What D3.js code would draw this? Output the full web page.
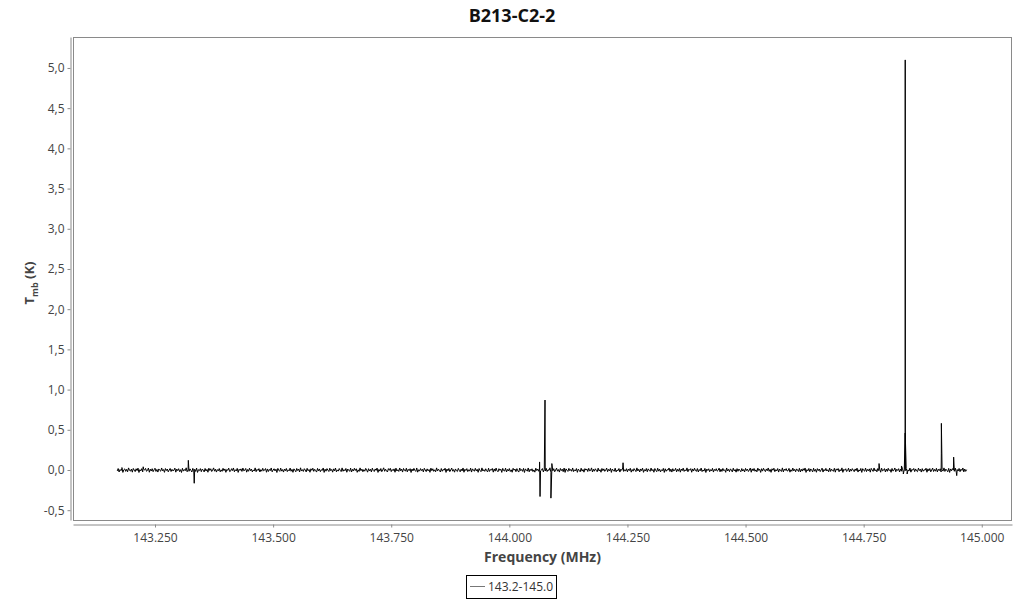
<!DOCTYPE html>
<html>
<head>
<meta charset="utf-8">
<script src="https://cdn.jsdelivr.net/npm/d3@7"></script>
<style>
  html, body { margin: 0; padding: 0; background: #fff; }
  svg { display: block; font-family: "Open Sans", "Noto Sans", sans-serif; }
</style>
</head>
<body>
<svg id="chart" width="1024" height="600"></svg>
<script>
// ---------------- data ----------------
const title = "B213-C2-2";
const seriesName = "143.2-145.0";
const xTicks = [143.25, 143.5, 143.75, 144.0, 144.25, 144.5, 144.75, 145.0];
const yTicks = [-0.5, 0.0, 0.5, 1.0, 1.5, 2.0, 2.5, 3.0, 3.5, 4.0, 4.5, 5.0];

// baseline channels (MHz): first channel and channel spacing
const chanStart = 143.170;
const chanStep = 0.002;
// baseline noise, mK, one per channel
const noiseMilliK = [
  -12,18,-25,6,-9,21,-30,3,14,-17,8,-22,26,-5,-14,11,-27,19,-2,-20,15,-8,23,-31,4,-11,17,-24,9,-1,
  20,-16,-6,24,-28,10,-13,16,-21,2,22,-18,7,-26,13,-4,-15,25,-10,5,-29,18,-7,12,-23,0,19,-19,8,-12,
  -3,23,-27,11,-8,16,-20,4,-31,21,-14,6,-9,27,-22,1,-16,14,-5,-25,20,-11,9,-18,24,-30,3,-7,17,-21,
  12,-2,-24,19,-13,8,-28,22,-6,15,-19,-1,26,-15,10,-26,5,-10,18,-23,2,-17,21,-8,13,-29,7,-4,23,-20,
  -14,16,-7,25,-22,3,-12,20,-30,9,-5,14,-18,24,-11,-3,19,-27,6,-16,22,-9,11,-24,1,-13,26,-21,8,-6,
  17,-25,4,-15,21,-10,-2,18,-28,13,-19,7,-8,25,-23,0,15,-12,10,-31,20,-4,-17,23,-14,5,-26,12,-9,19,
  -20,2,-11,24,-16,8,-29,14,-3,-22,19,-7,11,-25,27,-13,4,-18,16,-1,-24,21,-10,6,-28,15,-5,22,-17,9,
  -8,-26,20,-12,13,-21,3,-6,25,-30,10,-15,17,-2,-19,22,-9,7,-27,14,-11,24,-23,1,-14,18,-4,-20,26,-16,
  5,-10,19,-28,12,-3,-17,23,-25,8,-13,21,-6,15,-29,2,-18,26,-9,11,-22,4,-15,20,-1,-27,16,-12,9,-24,
  22,-7,-19,13,-5,24,-30,7,-14,18,-21,1,27,-16,10,-11,-25,17,-4,21,-20,6,-9,14,-28,23,-13,3,-18,25,
  -10,11,-26,19,-2,-15,22,-23,8,-8,16,-31,12,-12,20,-5,-18,25,-27,3,-14,17,-7,9,-24,21,-1,-20,14,-11,
  6,-29,23,-9,15,-17,2,-22,26,-13,10,-6,-25,18,-16,7,-3,22,-30,12,-10,19,-21,0,24,-15,5,-27,13,-8,
  -19,20,-4,-23,11,-12,25,-28,9,-7,17,-20,3,-14,23,-26,14,-2,-16,21,-11,8,-29,18,-6,-21,26,-13,4,-17,
  15,-9,-24,22,-18,5,-1,19,-27,13,-15,24,-10,-22,16,-5,10,-30,20,-8,-13,23,-25,7,-12,18,-19,2,-28,21,
  -3,12,-21,17,-11,-26,24,-8,6,-17,20,-31,14,-4,-14,25,-23,9,-9,15,-20,1,-27,22,-7,11,-16,26,-12,-2,
  18,-24,8,-13,21,-19,4,-6,27,-28,12,-10,16,-22,-1,23,-15,5,-26,19,-8,10,-21,24,-30,14,-3,-18,20,-9,
  7,-16,25,-20,2,-12,18,-29,11,-5,-23,22,-14,6,-27,17,-2,13,-19,21,-11,-7,26,-25,9,-15,15,-4,-22,23,
  -13,4,-28,19,-9,14,-17,-3,24,-21,8,-11,20,-30,12,-6,-16,22,-24,1,-10,18,-26,10,-5,25,-18,3,-14,16,
  -23,11,-7,21,-27,6,-15,17,-1,-20,26,-12,9,-25,13,-8,23,-29,4,-13,19,-22,14,-4,-17,24,-10,7,-28,18,
  -6,-21,22,-14,10,-24,3,-9,20,-30,15,-16,5,-2,25,-19,11,-26,16,-12,-5,21,-23,8,-15,19,-27,12,-8,23,
  -18,2,-11,26,-22,9,-3,17,-28,13,-13,22,-7,-17,18,-25,6,-10,24,-20,1,-14,20,-31,11,-6,15,-21,4,-12,
  21,-26,7,-8,16,-15,-4,23,-23,10,-18,19,-9,3,-29,25,-12,8,-20,14,-2,-24,22,-11,5,-27,17,-16,12,-5,
  -22,18,-13,6,-25,20,-7,11,-19,-1,24,-28,14,-10,19,-16,2,-23,23,-6,9,-30,16,-14,21,-3,-20,13,-9,25,
  -17,7,-29,15,-4,22,-21,4,-12,18,-26,12,-8,-18,26,-24,10,-5,17,-13,-9,20,-27,3,-16,24,-11,8,-22,14,
  -1,-19,21,-25,9,-14,16,-6,25,-30,5,-11,19,-21,13,-3,-24,22,-15,7,-28,17,-8,12,-20,1,23,-26,6,-10,
  20,-13,3,-23,24,-18,10,-7,-16,21,-27,14,-2,18,-22,5,-12,26,-29,8,-4,15,-19,-6,22,-25,11,-14,17,-3,
  -21,13,-9,23,-26,2,-13,19,-30,16,-5,-15,24,-20,7,-10,14,-27,20,-1,-18,25,-12,4,-23,18,-8,10,-28,22,
  -11,-4,17,-24,12,-17,21,-8,5,-29,19,-14,-3,25,-22,9,-6,16,-25,11,-15,22,-31,6,-9,20,-18,2,-13,24,
  -27,8,-2,19,-20,13,-12,-21,23,-7,10,-26,17,-16,4,-4,22,-28,14,-11,18,-23,-1,24,-19,7,-15,21,-24,9,
  -8,15,-25,3,-14,26,-18,11,-5,-22,20,-30,13,-10,17,-2,-16,23,-27,6,-13,19,-21,10,-6,25,-24,12,-17,4
];
// line features (MHz, K)
const lineFreq = [143.1800, 143.2250, 143.3205, 143.3330, 144.0640, 144.0650, 144.0755, 144.0880, 144.0900,
                  144.2407, 144.7826, 144.8300, 144.8340, 144.8379, 144.8380, 144.8381, 144.8420,
                  144.9144, 144.9145, 144.9405, 144.9470];
const lineVal  = [0.03, 0.04, 0.12, -0.165, 0.10, -0.33, 0.87, -0.35, 0.08,
                  0.09, 0.08, 0.05, -0.05, 0.46, 5.10, 0.44, -0.05,
                  0.20, 0.58, 0.16, -0.07];

// ---------------- build series ----------------
const pts = noiseMilliK.map((v, i) => ({ f: chanStart + i * chanStep, t: v / 1000 }));
lineFreq.forEach((f, i) => pts.push({ f: f, t: lineVal[i] }));
pts.sort((a, b) => a.f - b.f);

// ---------------- layout ----------------
const plot = { left: 73, right: 1012, top: 37, bottom: 520 };
const svg = d3.select("#chart");

const x = d3.scaleLinear().domain([143.0764, 145.064]).range([plot.left, plot.right]);
const y = d3.scaleLinear().domain([-0.622, 5.385]).range([plot.bottom, plot.top]);

// title
svg.append("text")
  .attr("x", 512).attr("y", 22)
  .attr("text-anchor", "middle")
  .attr("font-size", 18).attr("font-weight", "bold").attr("fill", "#111")
  .text(title);

// frame
svg.append("rect")
  .attr("x", plot.left + 0.5).attr("y", plot.top + 0.5)
  .attr("width", plot.right - plot.left - 1).attr("height", plot.bottom - plot.top)
  .attr("fill", "none").attr("stroke", "#8a8a8a");

// clip
svg.append("clipPath").attr("id", "clip")
  .append("rect").attr("x", plot.left + 1).attr("y", plot.top + 1)
  .attr("width", plot.right - plot.left - 2).attr("height", plot.bottom - plot.top - 1);

// spectrum
const line = d3.line().x(d => x(d.f)).y(d => y(d.t));
svg.append("path")
  .datum(pts)
  .attr("clip-path", "url(#clip)")
  .attr("fill", "none").attr("stroke", "#000").attr("stroke-width", 1)
  .attr("d", line);

// y axis
const yAxis = d3.axisLeft(y).tickValues(yTicks).tickSize(3).tickSizeOuter(0).tickPadding(3)
  .tickFormat(d => d3.format(".1f")(d).replace(".", ",").replace("−", "-"));
const gy = svg.append("g").attr("transform", "translate(70.5,0)").call(yAxis);
gy.select(".domain").attr("stroke", "#8a8a8a");
gy.selectAll(".tick line").attr("stroke", "#8a8a8a");
gy.selectAll(".tick text").attr("font-size", 12).attr("fill", "#444")
  .attr("font-family", "'Open Sans', sans-serif");

// x axis
const xAxis = d3.axisBottom(x).tickValues(xTicks).tickSize(3).tickSizeOuter(0).tickPadding(6)
  .tickFormat(d3.format(".3f"));
const gx = svg.append("g").attr("transform", "translate(0,524.5)").call(xAxis);
gx.select(".domain").attr("stroke", "#8a8a8a");
gx.selectAll(".tick line").attr("stroke", "#8a8a8a");
gx.selectAll(".tick text").attr("font-size", 12).attr("fill", "#444")
  .attr("font-family", "'Open Sans', sans-serif");

// x title
svg.append("text")
  .attr("x", (plot.left + plot.right) / 2).attr("y", 562)
  .attr("text-anchor", "middle")
  .attr("font-size", 14).attr("font-weight", "bold").attr("fill", "#444")
  .text("Frequency (MHz)");

// y title
const yt = svg.append("text")
  .attr("transform", "translate(34,283) rotate(-90)")
  .attr("text-anchor", "middle")
  .attr("font-size", 13).attr("font-weight", "bold").attr("fill", "#444");
yt.append("tspan").text("T");
yt.append("tspan").attr("font-size", 9).attr("dy", 4).text("mb");
yt.append("tspan").attr("dy", -4).text(" (K)");

// legend
const lg = svg.append("g");
lg.append("rect").attr("x", 466.5).attr("y", 575.5).attr("width", 90).attr("height", 23)
  .attr("fill", "#fff").attr("stroke", "#000");
lg.append("line").attr("x1", 470).attr("x2", 485).attr("y1", 586.5).attr("y2", 586.5)
  .attr("stroke", "#777").attr("stroke-width", 1);
lg.append("text").attr("x", 488).attr("y", 591)
  .attr("font-size", 12).attr("fill", "#333").text(seriesName);
</script>
</body>
</html>
